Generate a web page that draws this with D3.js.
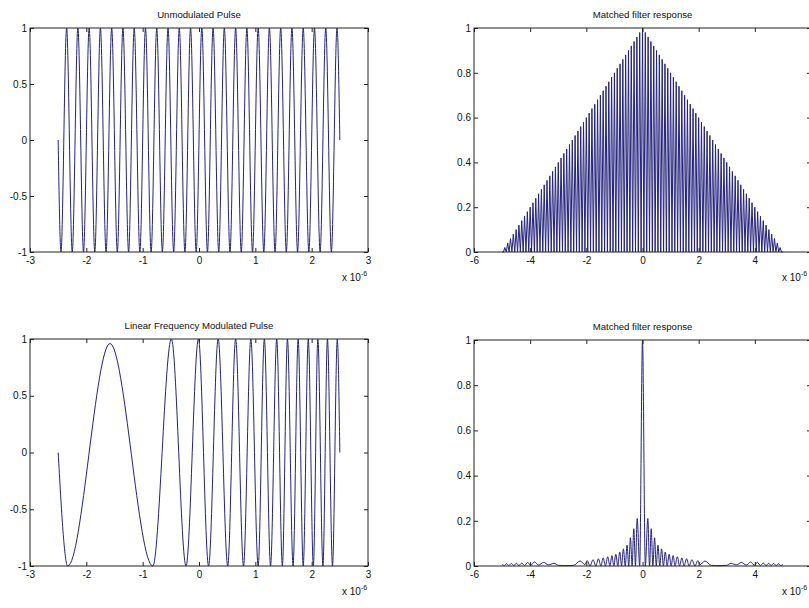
<!DOCTYPE html>
<html>
<head>
<meta charset="utf-8">
<script src="https://cdn.jsdelivr.net/npm/d3@7"></script>
<style>
body { margin: 0; background: #fff; }
svg { display: block; font-family: "Liberation Sans", Arial, sans-serif; }
</style>
</head>
<body>
<svg width="809" height="608"></svg>
<script>
// time axis values are in microseconds (axes show x 10^-6)

// unmodulated pulse: extrema of the 5 MHz burst
var pulseT = [-2.5, -2.45, -2.35, -2.25, -2.15, -2.05, -1.95, -1.85, -1.75, -1.65, -1.55, -1.45, -1.35, -1.25, -1.15, -1.05,
  -0.95, -0.85, -0.75, -0.65, -0.55, -0.45, -0.35, -0.25, -0.15, -0.05, 0.05, 0.15, 0.25, 0.35, 0.45, 0.55, 0.65, 0.75,
  0.85, 0.95, 1.05, 1.15, 1.25, 1.35, 1.45, 1.55, 1.65, 1.75, 1.85, 1.95, 2.05, 2.15, 2.25, 2.35, 2.45, 2.5];
var pulseY = [0, -1, 1, -1, 1, -1, 1, -1, 1, -1, 1, -1, 1, -1, 1, -1, 1, -1, 1, -1, 1, -1, 1, -1, 1, -1,
  1, -1, 1, -1, 1, -1, 1, -1, 1, -1, 1, -1, 1, -1, 1, -1, 1, -1, 1, -1, 1, -1, 1, -1, 1, 0];

// matched filter output of the plain pulse (spikes + nulls)
var respT = [-5, -4.95, -4.9, -4.85, -4.8, -4.75, -4.7, -4.65, -4.6, -4.55, -4.5, -4.45, -4.4, -4.35, -4.3, -4.25, -4.2, -4.15, -4.1, -4.05,
  -4, -3.95, -3.9, -3.85, -3.8, -3.75, -3.7, -3.65, -3.6, -3.55, -3.5, -3.45, -3.4, -3.35, -3.3, -3.25, -3.2, -3.15, -3.1, -3.05,
  -3, -2.95, -2.9, -2.85, -2.8, -2.75, -2.7, -2.65, -2.6, -2.55, -2.5, -2.45, -2.4, -2.35, -2.3, -2.25, -2.2, -2.15, -2.1, -2.05,
  -2, -1.95, -1.9, -1.85, -1.8, -1.75, -1.7, -1.65, -1.6, -1.55, -1.5, -1.45, -1.4, -1.35, -1.3, -1.25, -1.2, -1.15, -1.1, -1.05,
  -1, -0.95, -0.9, -0.85, -0.8, -0.75, -0.7, -0.65, -0.6, -0.55, -0.5, -0.45, -0.4, -0.35, -0.3, -0.25, -0.2, -0.15, -0.1, -0.05,
  0, 0.05, 0.1, 0.15, 0.2, 0.25, 0.3, 0.35, 0.4, 0.45, 0.5, 0.55, 0.6, 0.65, 0.7, 0.75, 0.8, 0.85, 0.9, 0.95,
  1, 1.05, 1.1, 1.15, 1.2, 1.25, 1.3, 1.35, 1.4, 1.45, 1.5, 1.55, 1.6, 1.65, 1.7, 1.75, 1.8, 1.85, 1.9, 1.95,
  2, 2.05, 2.1, 2.15, 2.2, 2.25, 2.3, 2.35, 2.4, 2.45, 2.5, 2.55, 2.6, 2.65, 2.7, 2.75, 2.8, 2.85, 2.9, 2.95,
  3, 3.05, 3.1, 3.15, 3.2, 3.25, 3.3, 3.35, 3.4, 3.45, 3.5, 3.55, 3.6, 3.65, 3.7, 3.75, 3.8, 3.85, 3.9, 3.95,
  4, 4.05, 4.1, 4.15, 4.2, 4.25, 4.3, 4.35, 4.4, 4.45, 4.5, 4.55, 4.6, 4.65, 4.7, 4.75, 4.8, 4.85, 4.9, 4.95, 5];
var respY = [0, 0, 0.02, 0, 0.04, 0, 0.06, 0, 0.08, 0, 0.1, 0, 0.12, 0, 0.14, 0, 0.16, 0, 0.18, 0,
  0.2, 0, 0.22, 0, 0.24, 0, 0.26, 0, 0.28, 0, 0.3, 0, 0.32, 0, 0.34, 0, 0.36, 0, 0.38, 0,
  0.4, 0, 0.42, 0, 0.44, 0, 0.46, 0, 0.48, 0, 0.5, 0, 0.52, 0, 0.54, 0, 0.56, 0, 0.58, 0,
  0.6, 0, 0.62, 0, 0.64, 0, 0.66, 0, 0.68, 0, 0.7, 0, 0.72, 0, 0.74, 0, 0.76, 0, 0.78, 0,
  0.8, 0, 0.82, 0, 0.84, 0, 0.86, 0, 0.88, 0, 0.9, 0, 0.92, 0, 0.94, 0, 0.96, 0, 0.98, 0,
  1, 0, 0.98, 0, 0.96, 0, 0.94, 0, 0.92, 0, 0.9, 0, 0.88, 0, 0.86, 0, 0.84, 0, 0.82, 0,
  0.8, 0, 0.78, 0, 0.76, 0, 0.74, 0, 0.72, 0, 0.7, 0, 0.68, 0, 0.66, 0, 0.64, 0, 0.62, 0,
  0.6, 0, 0.58, 0, 0.56, 0, 0.54, 0, 0.52, 0, 0.5, 0, 0.48, 0, 0.46, 0, 0.44, 0, 0.42, 0,
  0.4, 0, 0.38, 0, 0.36, 0, 0.34, 0, 0.32, 0, 0.3, 0, 0.28, 0, 0.26, 0, 0.24, 0, 0.22, 0,
  0.2, 0, 0.18, 0, 0.16, 0, 0.14, 0, 0.12, 0, 0.1, 0, 0.08, 0, 0.06, 0, 0.04, 0, 0.02, 0, 0];

// LFM pulse: extrema
var chirpT = [-2.5, -2.33, -1.58, -0.82, -0.49, -0.23, -0.01, 0.17, 0.34, 0.51, 0.65, 0.79, 0.92, 1.05, 1.16,
  1.27, 1.38, 1.48, 1.57, 1.67, 1.76, 1.85, 1.94, 2.03, 2.11, 2.2, 2.28, 2.37, 2.455, 2.5];
var chirpY = [0, -1, 0.96, -1, 1, -1, 1, -1, 1, -1, 1, -1, 1, -1, 1,
  -1, 1, -1, 1, -1, 1, -1, 1, -1, 1, -1, 1, -1, 1, 0];

// matched filter output of the LFM pulse
var lfmT = [-5, -4.92, -4.84, -4.76, -4.67, -4.58, -4.49, -4.4, -4.3, -4.2, -4.09, -3.98, -3.85, -3.7, -3.52, -3.35, -3.15, -3, -2.8, -2.6,
  -2.45, -2.22, -2.05, -1.97, -1.87, -1.76, -1.66, -1.57, -1.48, -1.4, -1.32, -1.24, -1.16, -1.09, -1.02, -0.95, -0.88, -0.81, -0.745, -0.68,
  -0.615, -0.55, -0.49, -0.43, -0.37, -0.31, -0.25, -0.19, -0.1, 0,
  0.1, 0.19, 0.25, 0.31, 0.37, 0.43, 0.49, 0.55, 0.615, 0.68, 0.745, 0.81, 0.88, 0.95, 1.02, 1.09, 1.16, 1.24, 1.32, 1.4,
  1.48, 1.57, 1.66, 1.76, 1.87, 1.97, 2.05, 2.22, 2.45, 2.6, 2.8, 3, 3.15, 3.35, 3.52, 3.7, 3.85, 3.98, 4.09, 4.2,
  4.3, 4.4, 4.49, 4.58, 4.67, 4.76, 4.84, 4.92, 5];
var lfmY = [0.006, 0.002, 0.01, 0.002, 0.011, 0.002, 0.012, 0.002, 0.013, 0.002, 0.016, 0.003, 0.018, 0.004, 0.016, 0.005, 0.012, 0.003, 0.002, 0.002,
  0.003, 0.022, 0.006, 0.024, 0, 0.028, 0, 0.032, 0, 0.036, 0, 0.041, 0, 0.046, 0, 0.052, 0, 0.062, 0, 0.076,
  0, 0.092, 0, 0.125, 0, 0.165, 0, 0.21, 0, 1,
  0, 0.21, 0, 0.165, 0, 0.125, 0, 0.092, 0, 0.076, 0, 0.062, 0, 0.052, 0, 0.046, 0, 0.041, 0, 0.036,
  0, 0.032, 0, 0.028, 0, 0.024, 0.006, 0.022, 0.003, 0.002, 0.002, 0.003, 0.012, 0.005, 0.016, 0.004, 0.018, 0.003, 0.016, 0.002,
  0.013, 0.002, 0.012, 0.002, 0.011, 0.002, 0.01, 0.002, 0.006];

// tick labels
var pulseXTicks = [-3, -2, -1, 0, 1, 2, 3];
var pulseYTicks = [-1, -0.5, 0, 0.5, 1];
var respXTicks = [-6, -4, -2, 0, 2, 4];
var respYTicks = [0, 0.2, 0.4, 0.6, 0.8, 1];

var svg = d3.select("svg");
svg.append("rect").attr("width", 809).attr("height", 608).attr("fill", "#fff");

var line_color = "#23237c";
var axis_font = "'Liberation Sans', Arial, sans-serif";

function draw_panel(id, box, xdom, ydom, xticks, yticks, title, tvals, yvals, curve, multX) {
    var xscale = d3.scaleLinear().domain(xdom).range([box.left, box.right]);
    var yscale = d3.scaleLinear().domain(ydom).range([box.bottom, box.top]);
    var g = svg.append("g").attr("class", id);
    var fmt = function (d) { return String(d); };

    g.append("clipPath").attr("id", "clip-" + id)
        .append("rect")
        .attr("x", box.left).attr("y", box.top - 1)
        .attr("width", box.right - box.left).attr("height", box.bottom - box.top + 2);

    var pts = tvals.map(function (t, i) { return [t, yvals[i]]; });
    var line = d3.line()
        .x(function (d) { return xscale(d[0]); })
        .y(function (d) { return yscale(d[1]); })
        .curve(curve);
    g.append("path").datum(pts)
        .attr("clip-path", "url(#clip-" + id + ")")
        .attr("d", line)
        .attr("fill", "none")
        .attr("stroke", line_color)
        .attr("stroke-width", 1);

    // matlab style inward ticks on all four sides
    var bottom = g.append("g").attr("transform", `translate(0, ${box.bottom})`)
        .call(d3.axisBottom(xscale).tickValues(xticks).tickSize(-4).tickPadding(5).tickFormat(fmt));
    var top = g.append("g").attr("transform", `translate(0, ${box.top})`)
        .call(d3.axisTop(xscale).tickValues(xticks).tickSize(-4).tickFormat(""));
    var left = g.append("g").attr("transform", `translate(${box.left}, 0)`)
        .call(d3.axisLeft(yscale).tickValues(yticks).tickSize(-4).tickPadding(3).tickFormat(fmt));
    var right = g.append("g").attr("transform", `translate(${box.right}, 0)`)
        .call(d3.axisRight(yscale).tickValues(yticks).tickSize(-4).tickFormat(""));
    [bottom, top, left, right].forEach(function (a) {
        a.select(".domain").remove();
        a.attr("font-family", axis_font).attr("font-size", 10);
        a.selectAll("line").attr("stroke", "#222");
        a.selectAll("text").attr("fill", "#111");
    });

    g.append("rect")
        .attr("x", box.left).attr("y", box.top)
        .attr("width", box.right - box.left).attr("height", box.bottom - box.top)
        .attr("fill", "none").attr("stroke", "#222").attr("stroke-width", 1);

    g.append("text")
        .attr("x", (box.left + box.right) / 2)
        .attr("y", box.top - 10)
        .attr("text-anchor", "middle")
        .attr("font-size", 9.6)
        .attr("fill", "#111")
        .text(title);

    var mult = g.append("text")
        .attr("x", multX)
        .attr("y", box.bottom + 29)
        .attr("font-size", 10)
        .attr("fill", "#111");
    mult.append("tspan").text("x 10");
    mult.append("tspan").attr("dy", -5).attr("font-size", 7).text("-6");
}

draw_panel("a", { left: 30, right: 368, top: 28, bottom: 252 }, [-3, 3], [-1, 1],
    pulseXTicks, pulseYTicks, "Unmodulated Pulse", pulseT, pulseY, d3.curveMonotoneX, 342);
draw_panel("b", { left: 474, right: 811, top: 28, bottom: 252 }, [-6, 6], [0, 1],
    respXTicks, respYTicks, "Matched filter response", respT, respY, d3.curveLinear, 782);
draw_panel("c", { left: 30, right: 368, top: 339, bottom: 566 }, [-3, 3], [-1, 1],
    pulseXTicks, pulseYTicks, "Linear Frequency Modulated Pulse", chirpT, chirpY, d3.curveMonotoneX, 342);
draw_panel("d", { left: 474, right: 811, top: 340, bottom: 566 }, [-6, 6], [0, 1],
    respXTicks, respYTicks, "Matched filter response", lfmT, lfmY, d3.curveMonotoneX, 782);
</script>
</body>
</html>
